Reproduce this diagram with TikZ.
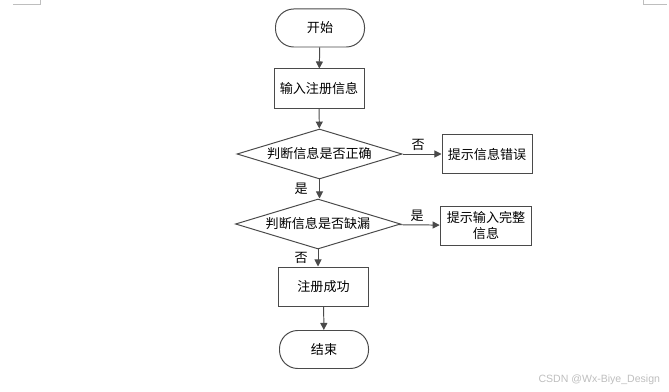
\documentclass[tikz,border=0pt]{standalone}
\usepackage{fontspec}
\newfontfamily\cjk{Noto Sans CJK SC}
\setsansfont{Liberation Sans}
\usepackage{tikz}
\usetikzlibrary{arrows.meta,shapes.geometric}
\usepackage{xcolor}
\definecolor{linegray}{HTML}{4A4A4A}
\definecolor{markgray}{HTML}{BEBEBE}
\tikzset{
  termnode/.style={rectangle,rounded corners=13pt,draw=linegray,fill=white,
    text=black,minimum width=2.225cm,minimum height=0.95cm,inner sep=2pt,
    font=\cjk\fontsize{9.3}{11}\selectfont,line width=0.7pt},
  procnode/.style={rectangle,draw=linegray,fill=white,text=black,
    minimum width=2.25cm,minimum height=0.975cm,inner sep=2pt,
    font=\cjk\fontsize{9.3}{11}\selectfont,line width=0.7pt},
  decnode/.style={diamond,draw=linegray,fill=white,text=black,aspect=3.3,
    minimum width=4.125cm,minimum height=1.25cm,inner sep=0pt,
    font=\cjk\fontsize{9.3}{11}\selectfont,line width=0.7pt},
  flowedge/.style={-{Triangle[length=5pt,width=5pt]},line width=0.7pt,color=linegray},
  edgelabel/.style={font=\cjk\fontsize{9.3}{11}\selectfont,text=black,inner sep=1pt},
}

\begin{document}
\begin{tikzpicture}[x=0.025cm,y=-0.025cm]
  \useasboundingbox (0,0) rectangle (669,392);
  % page corner marks
  \draw[markgray,line width=0.5pt] (13,4) -- (40,4) -- (40,0);
  \draw[markgray,line width=0.5pt] (643,0) -- (643,4) -- (667,4);

  \node[termnode] (start) at (320,28) {开始};
  \node[procnode] (input) at (319,88.5) {输入注册信息};
  \node[decnode]  (chk1)  at (319.5,154) {判断信息是否正确};
  \node[procnode] (err1)  at (487,154) {提示信息错误};
  \node[decnode]  (chk2)  at (318,224) {判断信息是否缺漏};
  \node[procnode,align=center,text width=2.15cm] (err2) at (486,225.5) {提示输入完整\\信息};
  \node[procnode] (succ)  at (323.5,286.5) {注册成功};
  \node[termnode] (finish) at (324,349.5) {结束};

  \draw[flowedge] (start) -- (input);
  \draw[flowedge] (input) -- (chk1);
  \draw[flowedge] (chk1) -- node[edgelabel,pos=0.4,above=1pt]{否} (err1);
  \draw[flowedge] (chk1) -- node[edgelabel,left=7pt]{是} (chk1 |- chk2.north);
  \draw[flowedge] (chk2) -- node[edgelabel,pos=0.45,above=1pt]{是} (err2);
  \draw[flowedge] (chk2) -- node[edgelabel,left=6pt]{否} (chk2 |- succ.north);
  \draw[flowedge] (succ) -- (finish);

  \node[font=\sffamily\fontsize{7.5}{9}\selectfont,text=markgray,anchor=east] (wm) at (665,380) {CSDN @Wx-Biye\_Design};
\end{tikzpicture}
\end{document}
